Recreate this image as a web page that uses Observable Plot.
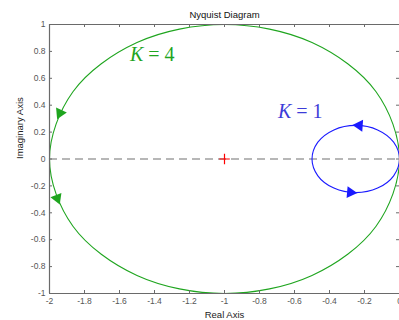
<!DOCTYPE html>
<html>
<head>
<meta charset="utf-8">
<script src="https://cdn.jsdelivr.net/npm/d3@7"></script>
<script src="https://cdn.jsdelivr.net/npm/@observablehq/plot@0.6"></script>
<style>
  html, body { margin: 0; padding: 0; background: #fff; }
</style>
</head>
<body>
<div id="chart"></div>
<script>
// ---- data ----
const xTicks = [-2, -1.8, -1.6, -1.4, -1.2, -1, -0.8, -0.6, -0.4, -0.2, 0];
const yTicks = [-1, -0.8, -0.6, -0.4, -0.2, 0, 0.2, 0.4, 0.6, 0.8, 1];

// K = 4 Nyquist curve (green), points
const k4Re = [0, -0.134, -0.5, -1, -1.5, -1.866, -2, -1.866, -1.5, -1, -0.5, -0.134];
const k4Im = [0, 0.5, 0.866, 1, 0.866, 0.5, 0, -0.5, -0.866, -1, -0.866, -0.5];
// K = 1 Nyquist curve (blue)
const k1Re = [0, -0.0335, -0.125, -0.25, -0.375, -0.4665, -0.5, -0.4665, -0.375, -0.25, -0.125, -0.0335];
const k1Im = [0, 0.125, 0.2165, 0.25, 0.2165, 0.125, 0, -0.125, -0.2165, -0.25, -0.2165, -0.125];

// direction arrows
const arrowGain = [4, 4, 1, 1];
const arrowRe = [-1.94, -1.956, -0.23, -0.28];
const arrowIm = [0.342, -0.292, 0.249, -0.248];
const arrowAngle = [205, 158, 274, 95];

// critical point
const critRe = [-1];
const critIm = [0];

// gain labels
const labelText = ["K = 4", "K = 1"];
const labelGain = [4, 1];
const labelRe = [-1.54, -0.695];
const labelIm = [0.775, 0.35];

// ---- styles ----
const GREEN = "#1fa51f";
const BLUE = "#1a1aff";
const BLUE_TXT = "#3c3cd8";
const AXIS = "#6a6a6a";
const TICKTXT = "#555555";
const FONT = "'Liberation Sans', Arial, Helvetica, sans-serif";

const W = 399, H = 320;
const mL = 49, mR = 0, mT = 24, mB = 27;
const innerW = W - mL - mR, innerH = H - mT - mB;
const TL = 3;

const k4 = k4Re.map((x, i) => ({x, y: k4Im[i]}));
const k1 = k1Re.map((x, i) => ({x, y: k1Im[i]}));
const arrows = arrowRe.map((x, i) => ({x, y: arrowIm[i], a: arrowAngle[i], k: arrowGain[i]}));
const labels = labelText.map((t, i) => ({t, x: labelRe[i], y: labelIm[i], k: labelGain[i]}));
const crit = critRe.map((x, i) => ({x, y: critIm[i]}));
const fmt = d => String(Math.round(d * 10) / 10);

const chart = Plot.plot({
  width: W, height: H,
  marginLeft: mL, marginRight: mR, marginTop: mT, marginBottom: mB,
  style: {fontFamily: FONT, background: "#fff", overflow: "visible"},
  x: {domain: [-2, 0]},
  y: {domain: [-1, 1]},
  marks: [
    // dashed real axis
    Plot.ruleY([0], {stroke: "#a0a0a0", strokeWidth: 1.5, strokeDasharray: "8,5"}),
    // curves
    Plot.line(k4, {x: "x", y: "y", curve: "catmull-rom-closed", stroke: GREEN, strokeWidth: 1.1}),
    Plot.line(k1, {x: "x", y: "y", curve: "catmull-rom-closed", stroke: BLUE, strokeWidth: 1.1}),
    // arrows
    Plot.dot(arrows, {x: "x", y: "y", symbol: "triangle", r: 4.4, rotate: "a",
      fill: d => d.k === 4 ? GREEN : BLUE, stroke: "none"}),
    // critical point
    Plot.dot(crit, {x: "x", y: "y", symbol: "plus", r: 3.5, stroke: "red", strokeWidth: 1.2}),
    // gain labels
    Plot.text(labels, {x: "x", y: "y", text: "t", textAnchor: "start", lineAnchor: "middle",
      fontSize: 20, fontFamily: "'Liberation Serif', 'Times New Roman', serif",
      fill: d => d.k === 4 ? GREEN : BLUE_TXT}),
    // box lines
    Plot.ruleX([-2], {stroke: AXIS, strokeWidth: 1.2}),
    Plot.ruleY([-1, 1], {stroke: AXIS, strokeWidth: 1.2}),
    // inward ticks
    Plot.tickX(xTicks, {x: d => d, insetTop: innerH - TL, stroke: AXIS}),
    Plot.tickX(xTicks, {x: d => d, insetBottom: innerH - TL, stroke: AXIS}),
    Plot.tickY(yTicks, {y: d => d, insetRight: innerW - TL, stroke: AXIS}),
    Plot.tickY(yTicks, {y: d => d, insetLeft: innerW - TL, stroke: AXIS}),
    // tick labels
    Plot.axisX({ticks: xTicks, tickFormat: fmt, tickSize: 0, tickPadding: 4, label: null,
      fontSize: 8.5, color: TICKTXT}),
    Plot.axisY({ticks: yTicks, tickFormat: fmt, tickSize: 0, tickPadding: 4, label: null,
      fontSize: 8.5, color: TICKTXT}),
    // title and axis labels
    Plot.text(["Nyquist Diagram"], {frameAnchor: "top", dy: -13, fontSize: 9.5, fill: "#111"}),
    Plot.text(["Real Axis"], {frameAnchor: "bottom", dy: 24, fontSize: 9.5, fill: "#222"}),
    Plot.text(["Imaginary Axis"], {frameAnchor: "left", dx: -30, rotate: -90, fontSize: 9.5, fill: "#222"})
  ]
});

// italic K in the gain labels
d3.select(chart).selectAll("text").each(function() {
  const s = this.textContent;
  if (s === "K = 4" || s === "K = 1") {
    const n = s.slice(-1);
    const el = d3.select(this);
    el.text("");
    el.append("tspan").attr("font-style", "italic").text("K");
    el.append("tspan").text(" = " + n);
  }
});

document.getElementById("chart").appendChild(chart);
</script>
</body>
</html>
